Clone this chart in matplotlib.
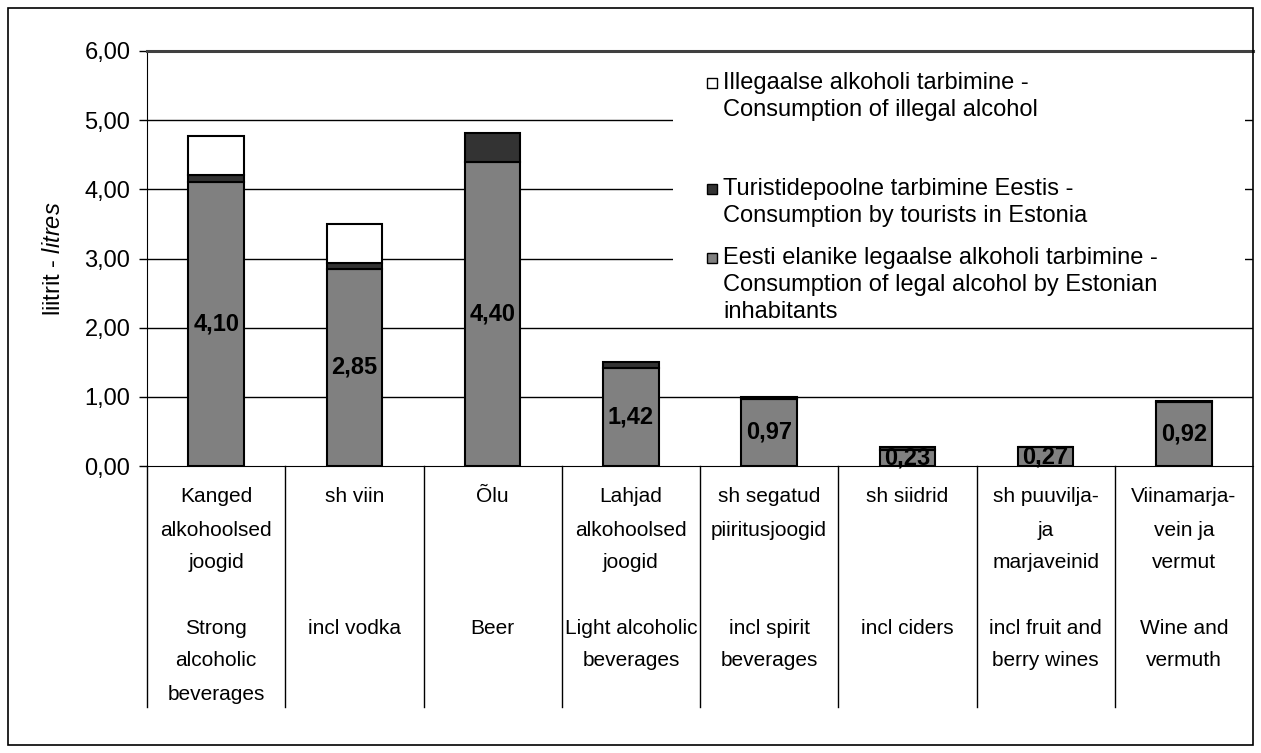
import matplotlib
matplotlib.use('Agg')
import matplotlib.pyplot as plt
from matplotlib.patches import Rectangle
import matplotlib.transforms as mtransforms
import numpy as np

# ---- data ----
categories_et = ["Kanged\nalkohoolsed\njoogid", "sh viin", "Õlu",
                 "Lahjad\nalkohoolsed\njoogid", "sh segatud\npiiritusjoogid",
                 "sh siidrid", "sh puuvilja-\nja\nmarjaveinid",
                 "Viinamarja-\nvein ja\nvermut"]
categories_en = ["Strong\nalcoholic\nbeverages", "incl vodka", "Beer",
                 "Light alcoholic\nbeverages", "incl spirit\nbeverages",
                 "incl ciders", "incl fruit and\nberry wines", "Wine and\nvermuth"]
legal = [4.10, 2.85, 4.40, 1.42, 0.97, 0.23, 0.27, 0.92]
tourists = [0.11, 0.08, 0.41, 0.09, 0.03, 0.04, 0.01, 0.02]
illegal = [0.56, 0.57, 0.0, 0.0, 0.0, 0.0, 0.0, 0.0]
yticks = [0, 1, 2, 3, 4, 5, 6]
legend_labels = ["Illegaalse alkoholi tarbimine -\nConsumption of illegal alcohol",
                 "Turistidepoolne tarbimine Eestis -\nConsumption by tourists in Estonia",
                 "Eesti elanike legaalse alkoholi tarbimine -\nConsumption of legal alcohol by Estonian\ninhabitants"]
ylabel_et = "liitrit - "
ylabel_en = "litres"

plt.rcParams['font.family'] = ['Liberation Sans', 'DejaVu Sans']
plt.rcParams['mathtext.fontset'] = 'custom'
plt.rcParams['mathtext.rm'] = 'Liberation Sans'
plt.rcParams['mathtext.it'] = 'Liberation Sans:italic'

W, H = 1261, 753
fig = plt.figure(figsize=(W / 100, H / 100), dpi=100)
fig.patch.set_facecolor('white')

def fx(px):
    return px / W

def fy(py):
    return 1 - py / H

ax_l, ax_r, ax_t, ax_b = 147, 1253, 51, 466
ax = fig.add_axes([fx(ax_l), fy(ax_b), fx(ax_r - ax_l), (ax_b - ax_t) / H])

n = len(legal)
x = np.arange(n) + 0.5
legal_a = np.array(legal)
tour_a = np.array(tourists)
ill_a = np.array(illegal)
bw = 0.4
ec = 'black'
b1 = ax.bar(x, legal_a, bw, color='#808080', edgecolor=ec, linewidth=1.5, zorder=3)
b2 = ax.bar(x, tour_a, bw, bottom=legal_a, color='#333333', edgecolor=ec, linewidth=1.5, zorder=3)
ill_mask = ill_a > 0
b3 = ax.bar(x[ill_mask], ill_a[ill_mask], bw, bottom=(legal_a + tour_a)[ill_mask],
            color='white', edgecolor=ec, linewidth=1.5, zorder=3)

ax.bar_label(b1, labels=[f"{v:.2f}".replace('.', ',') for v in legal],
             label_type='center', fontsize=17, fontweight='bold', zorder=5)

ax.set_xlim(0, n)
ax.set_ylim(0, 6)
ax.set_yticks(yticks)
ax.set_yticklabels([f"{v:.2f}".replace('.', ',') for v in yticks], fontsize=17)
ax.tick_params(axis='y', direction='out', length=6, width=1, color='black', pad=6)
ax.set_xticks([])
for yv in yticks[1:-1]:
    ax.axhline(yv, color='black', linewidth=1, zorder=1)

ax.spines['top'].set_color('#404040')
ax.spines['top'].set_linewidth(2.2)
ax.spines['right'].set_visible(False)
ax.spines['left'].set_color('black')
ax.spines['bottom'].set_color('black')

ax.set_ylabel(ylabel_et + r"$\mathit{" + ylabel_en + "}$", fontsize=17, labelpad=14)

# category separators and labels below axis
trans = mtransforms.blended_transform_factory(ax.transData, fig.transFigure)
for k in range(n):
    ax.plot([k, k], [fy(ax_b), fy(707)], transform=trans, color='black',
            linewidth=1, clip_on=False)
line_step = 33
for i in range(n):
    for j, ln in enumerate(categories_et[i].split('\n')):
        ax.text(x[i], fy(497 + j * line_step), ln, transform=trans, ha='center',
                va='center', fontsize=15)
    for j, ln in enumerate(categories_en[i].split('\n')):
        ax.text(x[i], fy(628 + j * line_step), ln, transform=trans, ha='center',
                va='center', fontsize=15)

# legend (manual, inside plot area on white background)
fig.patches.append(Rectangle((fx(673), fy(322)), fx(1245 - 673), (322 - 62) / H,
                             transform=fig.transFigure, facecolor='white',
                             edgecolor='none', zorder=2))
leg_colors = ['white', '#333333', '#808080']
leg_y = [83, 189, 258]
for c, lab, yy in zip(leg_colors, legend_labels, leg_y):
    fig.patches.append(Rectangle((fx(707), fy(yy + 5)), fx(10), 10 / H,
                                 transform=fig.transFigure, facecolor=c,
                                 edgecolor='black', linewidth=1, zorder=4))
    for j, ln in enumerate(lab.split('\n')):
        fig.text(fx(723), fy(yy + j * 27), ln, ha='left', va='center',
                 fontsize=17, zorder=5)

# outer chart frame
fig.patches.append(Rectangle((fx(8), fy(745)), fx(1253 - 8), (745 - 8) / H,
                             transform=fig.transFigure, facecolor='none',
                             edgecolor='black', linewidth=1.2, zorder=10))

fig.savefig('out.png', dpi=100)
